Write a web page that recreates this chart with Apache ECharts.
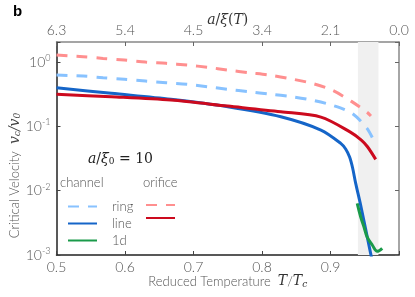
<!DOCTYPE html>
<html>
<head>
<meta charset="utf-8">
<script src="https://cdn.jsdelivr.net/npm/echarts@6/dist/echarts.min.js"></script>
<style>html,body{margin:0;padding:0;background:#fff}#c{width:415px;height:297px}</style>
</head>
<body>
<div id="c"></div>
<script>
// ---- data ----
const xTicks = [0.5, 0.6, 0.7, 0.8, 0.9, 1.0];
const bottomLabels = ['0.5', '0.6', '0.7', '0.8', '0.9', ''];
const topLabels = ['6.3', '5.4', '4.5', '3.4', '2.1', '0.0'];
const shadeRange = [0.94, 0.97];

const orificeRingT = [0.5, 0.539, 0.568, 0.599, 0.630, 0.660, 0.691, 0.721, 0.750, 0.782, 0.811, 0.844, 0.873, 0.902, 0.930, 0.953, 0.959];
const orificeRingV = [1.285, 1.21, 1.14, 1.075, 1.0, 0.955, 0.898, 0.828, 0.751, 0.682, 0.628, 0.544, 0.466, 0.367, 0.247, 0.167, 0.145];

const channelRingT = [0.5, 0.539, 0.568, 0.599, 0.630, 0.660, 0.691, 0.721, 0.750, 0.782, 0.811, 0.844, 0.873, 0.902, 0.931, 0.953, 0.965];
const channelRingV = [0.628, 0.605, 0.570, 0.538, 0.507, 0.477, 0.450, 0.413, 0.376, 0.345, 0.318, 0.289, 0.256, 0.214, 0.161, 0.094, 0.055];

const channelLineT = [0.50, 0.580, 0.667, 0.750, 0.8275, 0.886, 0.915, 0.9221, 0.9279, 0.9323, 0.9367, 0.944, 0.9585, 0.963];
const channelLineV = [0.398, 0.326, 0.263, 0.2017, 0.141, 0.0876, 0.0544, 0.0444, 0.0333, 0.0225, 0.0131, 0.00597, 0.00107, 0.000625];

const orificeLineT = [0.5, 0.580, 0.667, 0.750, 0.8275, 0.886, 0.929, 0.945, 0.954, 0.966];
const orificeLineV = [0.3146, 0.2886, 0.2564, 0.2068, 0.1687, 0.1395, 0.0815, 0.0612, 0.0482, 0.0307];

const channel1dT = [0.939, 0.944, 0.9488, 0.9534, 0.961, 0.9683, 0.9755];
const channel1dV = [0.00635, 0.00393, 0.00275, 0.00192, 0.00143, 0.00114, 0.00127];

const zip = (a, b) => a.map((v, i) => [v, b[i]]);

const labelFont = 'Lato, "Liberation Sans", Arial, sans-serif';
const grey = '#555';
const mathFont = '"DejaVu Serif", "Liberation Serif", serif';

function tickLabel(v, labels) {
  for (let i = 0; i < xTicks.length; i++) if (Math.abs(v - xTicks[i]) < 1e-6) return labels[i];
  return '';
}

const chart = echarts.init(document.getElementById('c'), null, {renderer: 'canvas'});
const option = {
  animation: false,
  backgroundColor: '#fff',
  grid: {left: 55, right: 16, top: 42, bottom: 42, containLabel: false},
  xAxis: [{
    type: 'value', position: 'bottom', min: 0.5, max: 1.0, interval: 0.1,
    axisLine: {lineStyle: {color: '#222', width: 1.5}},
    axisTick: {inside: true, length: 4, lineStyle: {color: '#444'}},
    splitLine: {show: false},
    axisLabel: {formatter: v => tickLabel(v, bottomLabels), color: grey, fontSize: 14, fontFamily: labelFont, fontWeight: 300, margin: 5},
    name: '{t|Reduced Temperature  }{m|T}{t|/}{m|T}{sub|c}',
    nameLocation: 'middle', nameGap: 19, nameMoveOverlap: false,
    nameTextStyle: {rich: {
      t: {fontSize: 13, color: grey, fontFamily: labelFont, fontWeight: 300},
      m: {fontSize: 14, color: '#333', fontFamily: mathFont, fontStyle: 'italic'},
      sub: {fontSize: 9, color: '#333', fontFamily: mathFont, fontStyle: 'italic', padding: [6, 0, 0, 0]}
    }}
  }, {
    type: 'value', position: 'top', min: 0.5, max: 1.0, interval: 0.1,
    axisLine: {lineStyle: {color: '#888', width: 1.5}},
    axisTick: {inside: true, length: 4, lineStyle: {color: '#666'}},
    splitLine: {show: false},
    axisLabel: {formatter: v => tickLabel(v, topLabels), color: grey, fontSize: 14, fontFamily: labelFont, fontWeight: 300, margin: 5},
    name: '{m|a}{u|/}{m|ξ}{u|(}{m|T}{u|)}',
    nameLocation: 'middle', nameGap: 15, nameMoveOverlap: false,
    nameTextStyle: {rich: {
      m: {fontSize: 14, color: '#333', fontFamily: mathFont, fontStyle: 'italic'},
      u: {fontSize: 14, color: '#333', fontFamily: mathFont}
    }}
  }],
  yAxis: [{
    type: 'log', logBase: 10, min: 0.001, max: 2.05, position: 'left',
    axisLine: {lineStyle: {color: '#222', width: 1.5}},
    axisTick: {inside: true, length: 4, lineStyle: {color: '#444'}},
    minorTick: {show: false},
    splitLine: {show: false},
    axisLabel: {
      margin: 6,
      formatter: v => {
        const e = Math.log10(v);
        if (Math.abs(e - Math.round(e)) > 1e-6) return '';
        return '{b|10}{s|' + Math.round(e) + '}';
      },
      rich: {
        b: {fontSize: 14, color: grey, fontFamily: labelFont, fontWeight: 300},
        s: {fontSize: 9, color: grey, fontFamily: labelFont, fontWeight: 300, padding: [0, 0, 8, 0]}
      }
    },
    name: '{t|Critical Velocity  }{m|v}{sub|c}{m|/v}{sub|0}',
    nameLocation: 'middle', nameRotate: 90, nameGap: 34, nameMoveOverlap: false,
    nameTextStyle: {padding: [0, 54, 0, 0], rich: {
      t: {fontSize: 13, color: grey, fontFamily: labelFont, fontWeight: 300},
      m: {fontSize: 14, color: '#444', fontFamily: mathFont, fontStyle: 'italic'},
      sub: {fontSize: 9, color: '#444', fontFamily: mathFont, fontStyle: 'italic', padding: [6, 0, 0, 0]}
    }}
  }, {
    type: 'log', logBase: 10, min: 0.001, max: 2.05, position: 'right',
    axisLine: {lineStyle: {color: '#888', width: 1.5}},
    axisTick: {inside: true, length: 4, lineStyle: {color: '#666'}},
    axisLabel: {show: false},
    splitLine: {show: false}
  }],
  legend: [{
    data: ['ring', 'line', '1d'], orient: 'vertical', left: 62, top: 195,
    itemWidth: 29, itemHeight: 10, itemGap: 4, selectedMode: false,
    itemStyle: {opacity: 0},
    textStyle: {color: grey, fontSize: 13, fontFamily: labelFont, fontWeight: 300, padding: [0, 0, 0, 10]}
  }, {
    data: ['orifice ring', 'orifice line'], orient: 'vertical', left: 140, top: 195,
    itemWidth: 29, itemHeight: 10, itemGap: 4, selectedMode: false,
    itemStyle: {opacity: 0},
    formatter: () => '', textStyle: {fontSize: 13, fontFamily: labelFont}
  }],
  graphic: [
    {type: 'text', left: 13, top: 4, style: {text: 'b', fontSize: 15, fontWeight: 'bold', fontFamily: '"Liberation Sans", Arial, sans-serif', fill: '#000'}},
    {type: 'text', left: 88, top: 152, style: {
      text: '{m|a}{u|/}{m|ξ}{sub|0}{u| = 10}',
      rich: {
        m: {fontSize: 14, fill: '#222', fontFamily: mathFont, fontStyle: 'italic'},
        u: {fontSize: 14, fill: '#222', fontFamily: mathFont},
        sub: {fontSize: 9, fill: '#222', fontFamily: mathFont, padding: [6, 0, 0, 0]}
      }}},
    {type: 'text', left: 60, top: 176, style: {text: 'channel', fontSize: 13, fill: grey, fontFamily: labelFont, fontWeight: 300}},
    {type: 'text', left: 143, top: 176, style: {text: 'orifice', fontSize: 13, fill: grey, fontFamily: labelFont, fontWeight: 300}}
  ],
  series: [{
    type: 'line', name: 'shade', data: [], z: 1, silent: true,
    markArea: {silent: true, itemStyle: {color: '#f0f0f0'}, data: [[{xAxis: shadeRange[0]}, {xAxis: shadeRange[1]}]]}
  }, {
    type: 'line', name: 'orifice ring', z: 3, data: zip(orificeRingT, orificeRingV), symbol: 'none', smooth: 0.3,
    lineStyle: {color: '#ff8f8f', width: 3, type: [11, 9]}, itemStyle: {color: '#ff8f8f'}
  }, {
    type: 'line', name: 'ring', z: 3, data: zip(channelRingT, channelRingV), symbol: 'none', smooth: 0.3,
    lineStyle: {color: '#88c2ff', width: 3, type: [11, 9]}, itemStyle: {color: '#88c2ff'}
  }, {
    type: 'line', name: 'line', z: 3, data: zip(channelLineT, channelLineV), symbol: 'none', smooth: 0.3,
    lineStyle: {color: '#1565c8', width: 3}, itemStyle: {color: '#1565c8'}
  }, {
    type: 'line', name: 'orifice line', z: 3, data: zip(orificeLineT, orificeLineV), symbol: 'none', smooth: 0.3,
    lineStyle: {color: '#cc0a1e', width: 3}, itemStyle: {color: '#cc0a1e'}
  }, {
    type: 'line', name: '1d', z: 3, data: zip(channel1dT, channel1dV), symbol: 'none', smooth: 0.4,
    lineStyle: {color: '#1a9a4a', width: 3}, itemStyle: {color: '#1a9a4a'}
  }]
};
chart.setOption(option);
</script>
</body>
</html>
